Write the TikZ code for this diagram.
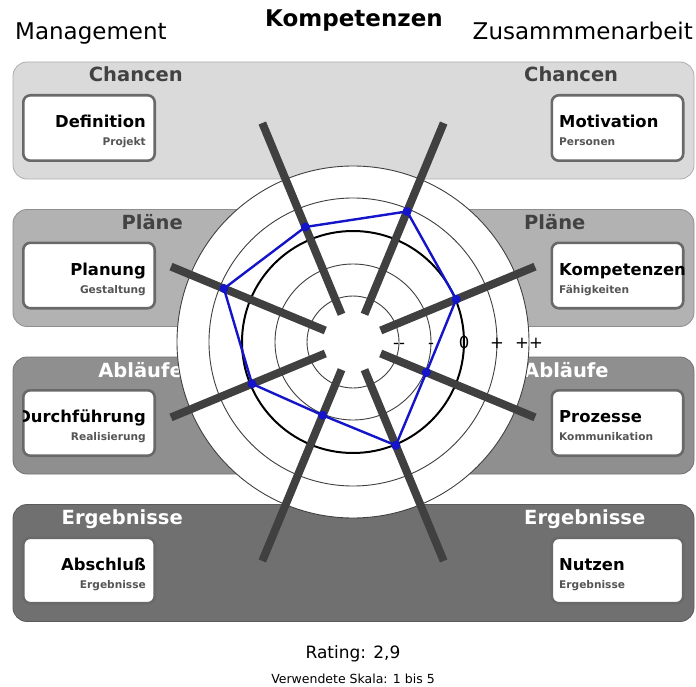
\documentclass[tikz,border=0pt]{standalone}
\usepackage{fontspec}
\setmainfont{DejaVu Sans}
\usepackage{tikz}
\usetikzlibrary{calc,positioning}

\definecolor{bandA}{RGB}{218,218,218}
\definecolor{bandB}{RGB}{178,178,178}
\definecolor{bandC}{RGB}{143,143,143}
\definecolor{bandD}{RGB}{112,112,112}
\definecolor{headdark}{RGB}{66,66,66}
\definecolor{boxline}{RGB}{105,105,105}
\definecolor{subgray}{RGB}{85,85,85}
\definecolor{spokegray}{RGB}{64,64,64}
\definecolor{ratingblue}{RGB}{20,20,200}

\begin{document}
\begin{tikzpicture}[x=1pt,y=-1pt,
    band/.style={rounded corners=14pt,line width=0.8pt},
    head/.style={font=\fontsize{19.5}{22}\selectfont\bfseries,inner sep=0pt},
    box/.style={draw=boxline,line width=2.6pt,fill=white,rounded corners=7pt,
      minimum width=131.4pt,minimum height=65.4pt,inner sep=0pt},
    boxtitle/.style={font=\fontsize{16.4}{18}\selectfont\bfseries,inner sep=0pt},
    boxsub/.style={font=\fontsize{10.6}{12}\selectfont\bfseries,text=subgray,inner sep=0pt},
    ring/.style={draw=black!75,line width=0.9pt},
    spoke/.style={draw=spokegray,line width=8pt},
    scalelabel/.style={font=\fontsize{16.5}{18}\selectfont,anchor=base,inner sep=0pt},
    rating/.style={draw=ratingblue,line width=2.4pt,line join=round},
    dot/.style={fill=ratingblue},
    plain/.style={inner sep=0pt}]

  \useasboundingbox (0,0) rectangle (696,687);

  % bands with boxes
  \foreach \ty/\fc/\hc/\hd/\lname/\lsub/\rname/\rsub [count=\i] in {
      62/bandA/headdark/Chancen/Definition/Projekt/Motivation/Personen,
      209.5/bandB/headdark/Pläne/Planung/Gestaltung/Kompetenzen/Fähigkeiten,
      357/bandC/white/Abläufe/Durchführung/Realisierung/Prozesse/Kommunikation,
      504.5/bandD/white/Ergebnisse/Abschluß/Ergebnisse/Nutzen/Ergebnisse}
  {
    \draw[band,fill=\fc,draw=\fc!80!black] (13,\ty) rectangle (694,\ty+117);
    \node[head,text=\hc,anchor=base east] (lhead\i) at (183,\ty+20) {\hd};
    \node[head,text=\hc,anchor=base west] (rhead\i) at (524,\ty+20) {\hd};
    \node[box] (lbox\i) at (89,\ty+66) {};
    \node[box] (rbox\i) at (617.5,\ty+66) {};
    \begin{scope}
      \clip ([xshift=1.3pt]lbox\i.south west) rectangle (lbox\i.north east);
      \node[boxtitle,anchor=base east] (lname\i) at (146,\ty+65.5) {\lname};
    \end{scope}
    \node[boxsub,anchor=base east] (lsub\i) at (146,\ty+83.5) {\lsub};
    \node[boxtitle,anchor=base west] (rname\i) at (559,\ty+65.5) {\rname};
    \node[boxsub,anchor=base west] (rsub\i) at (559,\ty+83.5) {\rsub};
  }

  % rating disc
  \coordinate (C) at (353,342);
  \fill[white] (C) circle (176pt);
  \foreach \r in {46,78,144,176}
    \draw[ring] (C) circle (\r pt);
  \draw[ring,draw=black,line width=2pt] (C) circle (111pt);
  \foreach \a/\l in {22.5/197,67.5/237,112.5/237,157.5/197,202.5/197,247.5/237,292.5/237,337.5/197}
    \draw[spoke] ($(C)+(\a:30pt)$) -- ($(C)+(\a:\l pt)$);
  \foreach \r/\s [count=\k] in {46/{{-}{-}},78/-,111/0,144/+,176/++}
    \node[scalelabel] (s\k) at ($(C)+(\r pt,-6pt)$) {\s};

  % values
  \foreach \a/\r [count=\k] in {22.5/111.7,67.5/141.3,112.5/124.5,157.5/139.7,
      202.5/109.3,247.5/79.3,292.5/111.9,337.5/79.4}
    \coordinate (p\k) at ($(C)+(\a:\r pt)$);
  \draw[rating] (p1) -- (p2) -- (p3) -- (p4) -- (p5) -- (p6) -- (p7) -- (p8) -- cycle;
  \foreach \k in {1,...,8}
    \fill[dot] (p\k) circle (4.5pt);

  % texts
  \node[plain,anchor=base west,font=\fontsize{23}{26}\selectfont] (mgmt) at (15,40) {Management};
  \node[plain,anchor=base east,font=\fontsize{23}{26}\selectfont] (team) at (693,40) {Zusammmenarbeit};
  \node[plain,anchor=base,font=\fontsize{23}{26}\selectfont\bfseries] (title) at (354,27) {Kompetenzen};
  \node[plain,anchor=base,font=\fontsize{17}{20}\selectfont] (score) at (353,658) {Rating: 2,9};
  \node[plain,anchor=base,font=\fontsize{12.5}{14}\selectfont] (scale) at (353,683) {Verwendete Skala: 1 bis 5};
\end{tikzpicture}
\end{document}
